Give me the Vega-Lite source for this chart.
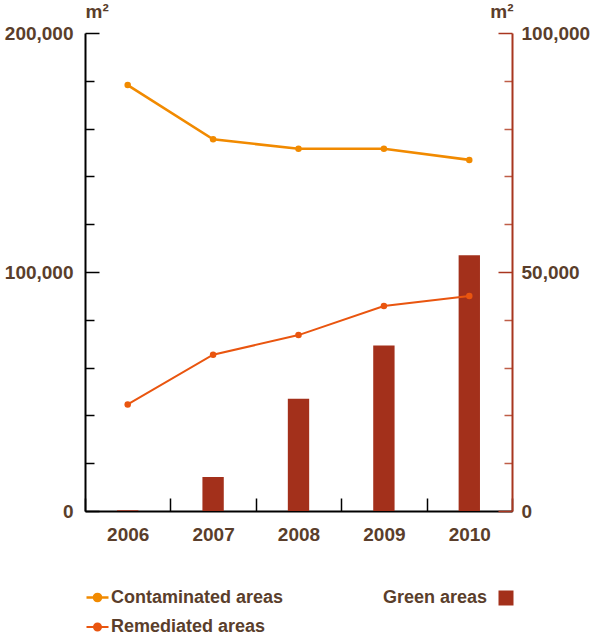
{
  "$schema": "https://vega.github.io/schema/vega-lite/v6.json",
  "width": 427,
  "height": 478,
  "autosize": {"type": "none"},
  "padding": {"left": 85, "top": 33, "right": 83, "bottom": 124},
  "background": "white",
  "config": {
    "view": {"stroke": null},
    "font": "Liberation Sans",
    "axis": {"labelFont": "Liberation Sans", "labelFontWeight": "bold", "labelFontSize": 19, "labelColor": "#5a3e2b", "titleFont": "Liberation Sans", "titleFontWeight": "bold", "titleFontSize": 19, "titleColor": "#5a3e2b", "grid": false},
    "legend": {"labelFont": "Liberation Sans", "labelFontWeight": "bold", "labelFontSize": 18, "labelColor": "#5a3e2b", "titleFont": "Liberation Sans", "titleFontWeight": "bold", "titleFontSize": 18, "titleColor": "#5a3e2b", "padding": 0, "labelLimit": 400, "titleLimit": 400}
  },
  "data": {
    "values": [
      {"year": "2006", "series": "Contaminated areas", "value": 178200},
      {"year": "2007", "series": "Contaminated areas", "value": 155500},
      {"year": "2008", "series": "Contaminated areas", "value": 151600},
      {"year": "2009", "series": "Contaminated areas", "value": 151600},
      {"year": "2010", "series": "Contaminated areas", "value": 146900},
      {"year": "2006", "series": "Remediated areas", "value": 44600},
      {"year": "2007", "series": "Remediated areas", "value": 65400},
      {"year": "2008", "series": "Remediated areas", "value": 73600},
      {"year": "2009", "series": "Remediated areas", "value": 85800},
      {"year": "2010", "series": "Remediated areas", "value": 90000},
      {"year": "2006", "series": "Green areas", "value": 150},
      {"year": "2007", "series": "Green areas", "value": 7100},
      {"year": "2008", "series": "Green areas", "value": 23500},
      {"year": "2009", "series": "Green areas", "value": 34600},
      {"year": "2010", "series": "Green areas", "value": 53500}
    ]
  },
  "encoding": {
    "x": {
      "field": "year",
      "type": "ordinal",
      "scale": {"paddingInner": 0, "paddingOuter": 0},
      "axis": {
        "title": null,
        "labelAngle": 0,
        "tickBand": "extent",
        "tickSize": -13,
        "tickColor": "black",
        "tickWidth": 1.5,
        "domainColor": "black",
        "domainWidth": 2,
        "labelPadding": 27
      }
    }
  },
  "layer": [
    {
      "transform": [{"filter": "datum.series == 'Green areas'"}],
      "mark": {"type": "bar", "width": {"band": 0.25}},
      "encoding": {
        "y": {
          "field": "value",
          "type": "quantitative",
          "scale": {"domain": [0, 100000], "nice": false},
          "axis": {
            "orient": "right",
            "values": [0, 10000, 20000, 30000, 40000, 50000, 60000, 70000, 80000, 90000, 100000],
            "labelExpr": "datum.value % 50000 == 0 ? format(datum.value, ',') : ''",
            "tickSize": {"condition": {"test": "datum.value % 50000 == 0", "value": -14}, "value": -8},
            "tickColor": {"condition": {"test": "datum.value % 50000 == 0", "value": "#a8361f"}, "value": "#bf5e48"},
            "tickWidth": 1.5,
            "domainColor": "#a8361f",
            "domainWidth": 2,
            "labelPadding": 23,
            "title": "m²",
            "titleAngle": 0,
            "titleAlign": "right",
            "titleBaseline": "alphabetic",
            "titleX": 1,
            "titleY": -16
          }
        },
        "fill": {
          "field": "series",
          "type": "nominal",
          "scale": {"domain": ["Green areas"], "range": ["#a3301b"]},
          "legend": {
            "orient": "none",
            "legendX": 298,
            "legendY": 556,
            "title": "Green areas",
            "titleOrient": "left",
            "titlePadding": 9,
            "labelExpr": "''",
            "symbolType": "square",
            "symbolSize": 225,
            "symbolStrokeWidth": 0
          }
        }
      }
    },
    {
      "transform": [{"filter": "datum.series != 'Green areas'"}],
      "encoding": {
        "y": {
          "field": "value",
          "type": "quantitative",
          "scale": {"domain": [0, 200000], "nice": false},
          "axis": {
            "orient": "left",
            "values": [0, 20000, 40000, 60000, 80000, 100000, 120000, 140000, 160000, 180000, 200000],
            "labelExpr": "datum.value % 100000 == 0 ? format(datum.value, ',') : ''",
            "tickSize": {"condition": {"test": "datum.value % 100000 == 0", "value": -14}, "value": -9},
            "tickColor": "black",
            "tickWidth": 1.5,
            "domainColor": "black",
            "domainWidth": 2,
            "labelPadding": 26,
            "title": "m²",
            "titleAngle": 0,
            "titleAlign": "left",
            "titleBaseline": "alphabetic",
            "titleX": 0,
            "titleY": -16
          }
        },
        "color": {
          "field": "series",
          "type": "nominal",
          "scale": {"domain": ["Contaminated areas", "Remediated areas"], "range": ["#f18a00", "#e9550f"]},
          "legend": {
            "orient": "none",
            "legendX": 0,
            "legendY": 552,
            "title": null,
            "symbolType": "M-1,0L1,0M0.32,0A0.32,0.32 0 1 1 -0.32,0A0.32,0.32 0 1 1 0.32,0Z",
            "symbolSize": 484,
            "symbolStrokeWidth": 2.5,
            "labelOffset": 1,
            "rowPadding": 8
          }
        }
      },
      "layer": [
        {
          "mark": {"type": "line"},
          "encoding": {
            "strokeWidth": {"field": "series", "type": "nominal", "scale": {"domain": ["Contaminated areas", "Remediated areas"], "range": [2.6, 2]}, "legend": null}
          }
        },
        {
          "mark": {"type": "circle", "size": 42, "opacity": 1}
        }
      ]
    }
  ],
  "resolve": {"scale": {"y": "independent"}}
}
